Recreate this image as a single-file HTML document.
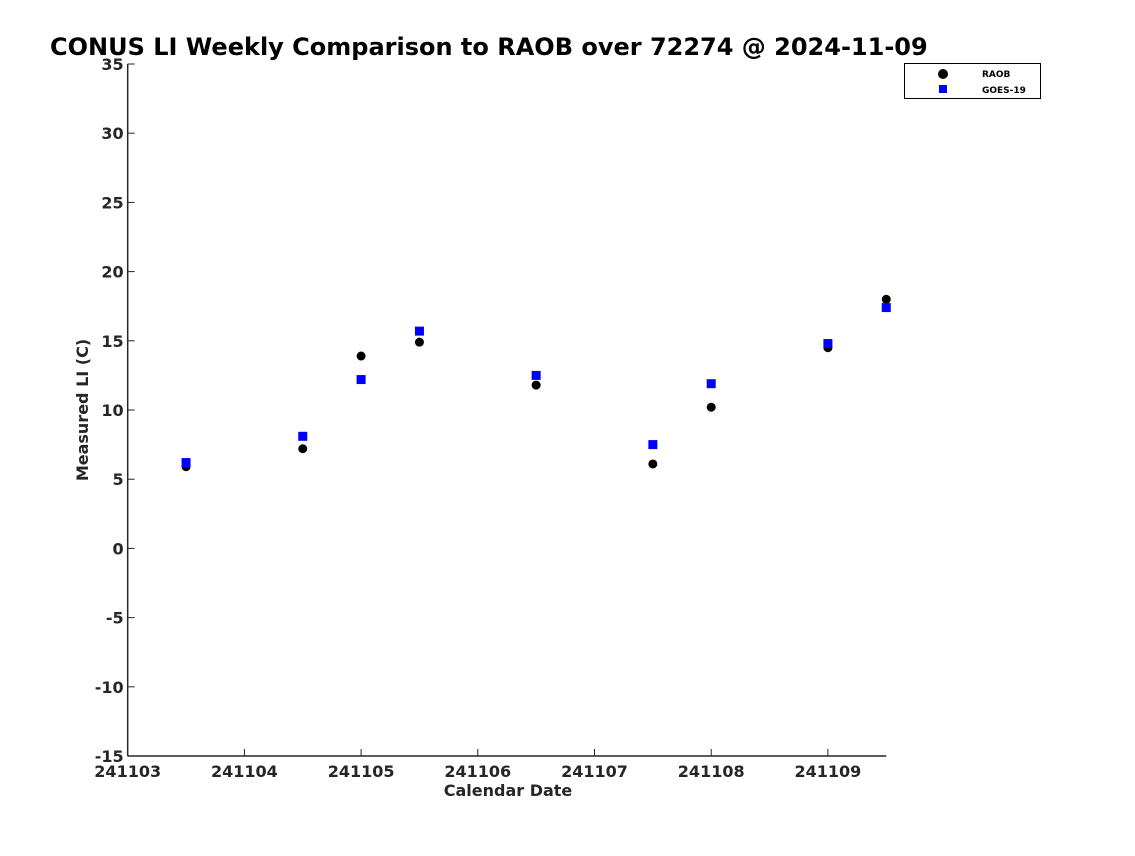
<!DOCTYPE html>
<html><head><meta charset="utf-8"><style>
body{margin:0;background:#fff}
svg text{font-family:"DejaVu Sans","Liberation Sans",sans-serif;font-weight:bold}
</style></head><body>
<svg width="1135" height="851" viewBox="0 0 1135 851" id="chart">
<text x="50" y="55" font-size="24" fill="#000">CONUS LI Weekly Comparison to RAOB over 72274 @ 2024-11-09</text>
<g id="axes"></g>
<g id="marks"></g>
<g>
<rect x="904.5" y="63.5" width="136" height="35" fill="#fff" stroke="#000" stroke-width="1"/>
<circle cx="943" cy="74" r="5" fill="#000"/>
<text x="982" y="77" font-size="9" fill="#000">RAOB</text>
<rect x="939" y="85" width="8" height="8" fill="#0000ff"/>
<text x="982" y="93" font-size="9" fill="#000">GOES-19</text>
</g>
<text x="508" y="796" font-size="16" fill="#262626" text-anchor="middle">Calendar Date</text>
<text transform="translate(88,410) rotate(-90)" font-size="16" fill="#262626" text-anchor="middle">Measured LI (C)</text>
</svg>
<script>
const xTicks=["241103","241104","241105","241106","241107","241108","241109"];
const yTicks=[35,30,25,20,15,10,5,0,-5,-10,-15];
const days=[0.5,1.5,2,2.5,3.5,4.5,5,6,6.5];
const raob=[5.9,7.2,13.9,14.9,11.8,6.1,10.2,14.5,18.0];
const goes=[6.2,8.1,12.2,15.7,12.5,7.5,11.9,14.8,17.4];
const NS="http://www.w3.org/2000/svg";
const X0=127.7,DX=116.7,Y0=756,YT=64,YMIN=-15,YMAX=35;
function xs(d){return X0+d*DX;}
function ys(v){return Y0-(v-YMIN)/(YMAX-YMIN)*(Y0-YT);}
function mk(t,a,p){const e=document.createElementNS(NS,t);for(const k in a)e.setAttribute(k,a[k]);p.appendChild(e);return e;}
const ax=document.getElementById('axes'),mg=document.getElementById('marks');
let l=mk('line',{x1:X0,y1:YT,x2:X0,y2:Y0,stroke:'#262626','stroke-width':1.5},ax);


l=mk('line',{x1:X0,y1:Y0,x2:xs(6.5),y2:Y0,stroke:'#262626','stroke-width':1.5},ax);


xTicks.forEach((t,i)=>{const x=xs(i);
 if(i>0){const tk=mk('line',{x1:x,y1:Y0,x2:x,y2:Y0-7,stroke:'#262626'},ax);
 
 }
 const tx=mk('text',{x:x,y:Y0+21,'font-size':16,fill:'#262626','text-anchor':'middle'},ax);tx.textContent=t;
 
 });
yTicks.forEach(v=>{const y=ys(v);
 const tk=mk('line',{x1:X0,y1:y,x2:X0+7,y2:y,stroke:'#262626'},ax);
 
 
 const tx=mk('text',{x:X0-4,y:y+6,'font-size':16,fill:'#262626','text-anchor':'end'},ax);tx.textContent=v;
 
 });
days.forEach((d,i)=>{
 const c=mk('circle',{cx:xs(d),cy:ys(raob[i]),r:4.5,fill:'#000'},mg);
 
 
 const r=mk('rect',{x:xs(d)-4.5,y:ys(goes[i])-4.5,width:9,height:9,fill:'#0000ff'},mg);
 
 });
</script>
</body></html>
